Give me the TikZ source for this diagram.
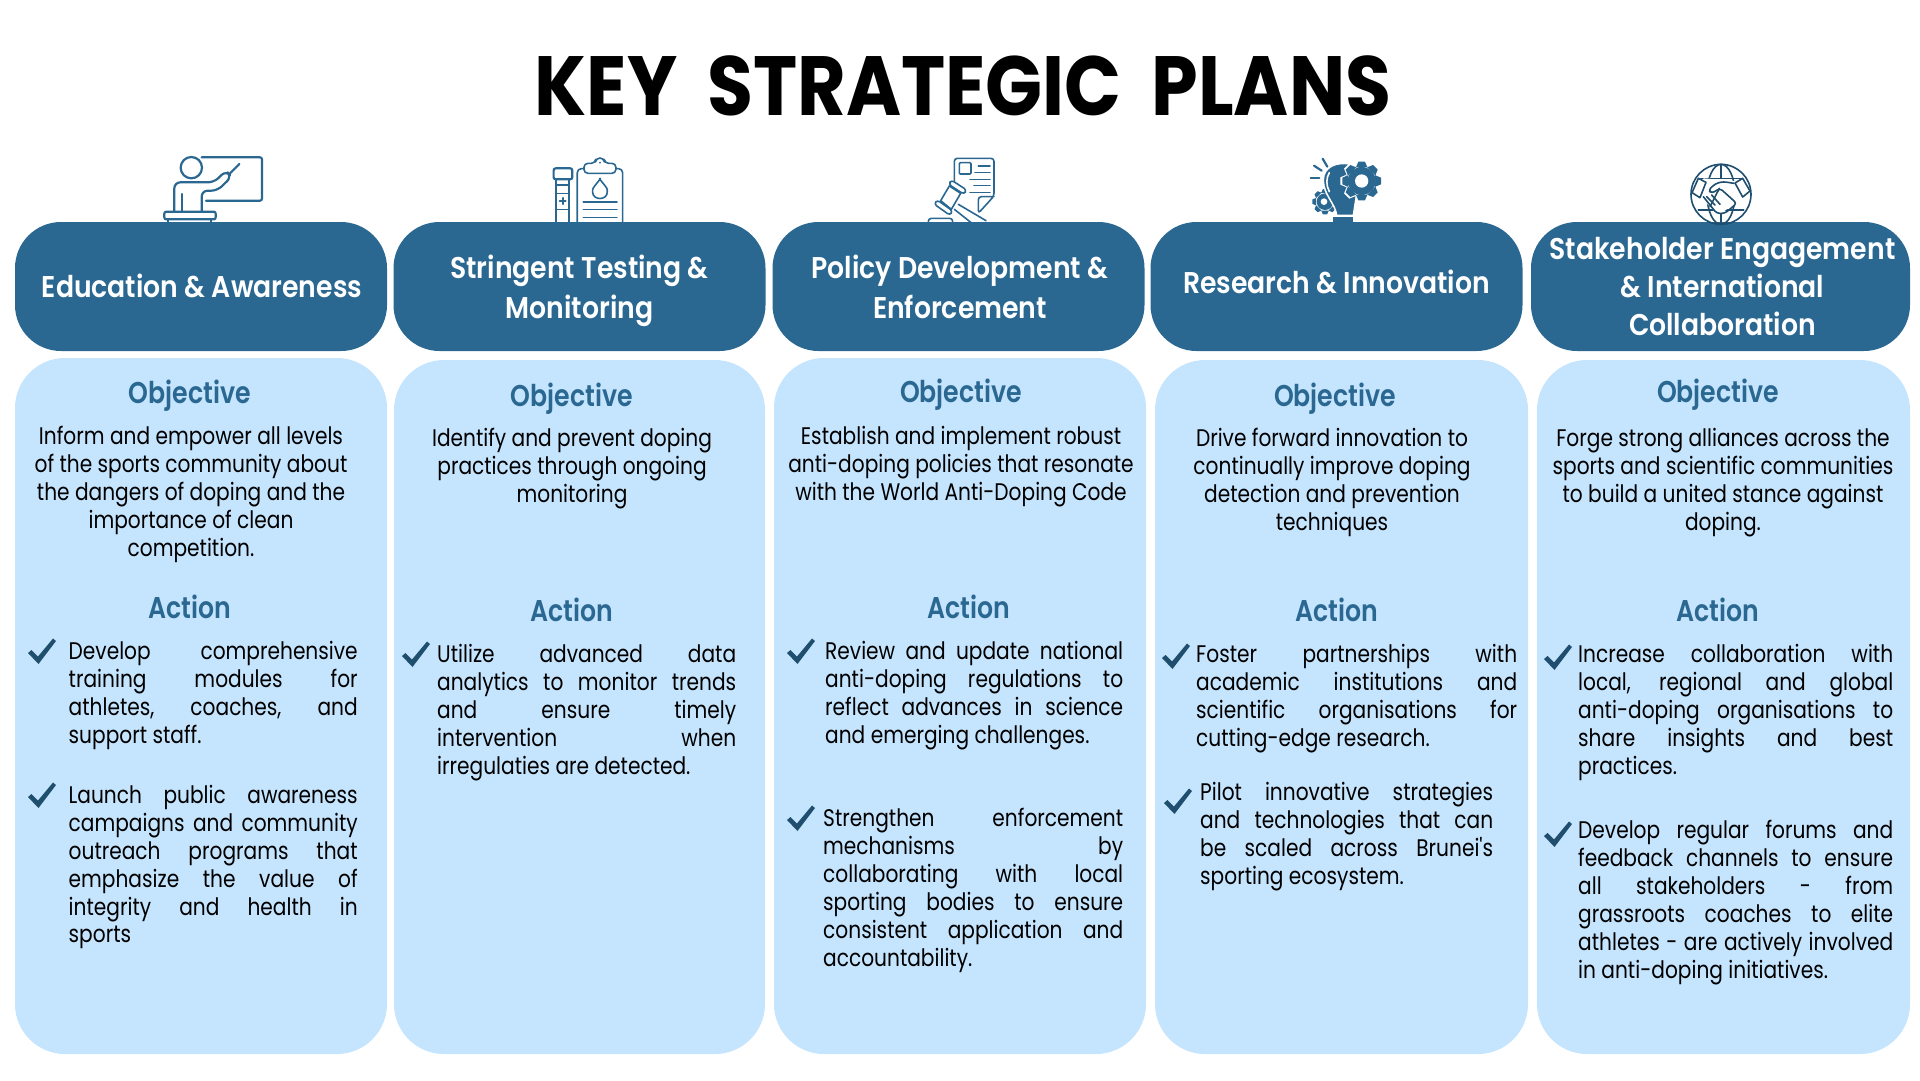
\documentclass[tikz,border=0pt]{standalone}
\usepackage{fontspec}
\newfontfamily\bodyfont[FakeStretch=0.84]{Poppins}
\newfontfamily\headfont[FakeStretch=0.89]{Poppins SemiBold}
\newfontfamily\subfont[FakeStretch=0.84]{Poppins SemiBold}
\newfontfamily\titlefont[FakeStretch=0.89]{Poppins Bold}
\definecolor{headblue}{HTML}{2A6892}
\definecolor{cardblue}{HTML}{C5E4FD}
\definecolor{tickblue}{HTML}{1F4E6E}
\tolerance=10000
\hbadness=10000
\hfuzz=3pt
\tikzset{
	headbox/.style={fill=headblue, text=white, rounded corners=46pt, minimum height=129pt, inner sep=0pt, align=center, font=\headfont\fontsize{30}{40}\selectfont},
	cardbox/.style={fill=cardblue, rounded corners=50pt, inner sep=0pt},
	subhead/.style={text=headblue, inner sep=0pt, font=\subfont\fontsize{30}{34}\selectfont},
	objtext/.style={anchor=north, inner sep=0pt, align=center, font=\bodyfont\fontsize{24}{28.1}\selectfont},
	listtext/.style={anchor=north west, inner sep=0pt, align=justify, font=\bodyfont\fontsize{24}{27.9}\selectfont},
	tickmark/.style={fill=tickblue},
	zoomed/.style={shift={(#1)}, x=0.3333pt, y=-0.3333pt},
	iconline/.style={draw=headblue, line width=2.2pt, line join=round, line cap=round, rounded corners=2pt},
	thinline/.style={draw=headblue, line width=1.6pt, line join=round, line cap=round, rounded corners=1pt},
	globeline/.style={draw=tickblue, line width=1.6pt, line join=round, line cap=round}
}
\newcommand{\ticksign}[1]{\fill[tickmark, shift={(#1)}] (-14,2) -- (-10.5,-1) -- (-4,5.5) -- (11,-12.5) -- (14,-10) -- (-3.5,13) -- cycle;}
\newcommand{\headtext}[3]{\hspace{#1}\raisebox{#2}[0pt][0pt]{\begin{tabular}{@{}c@{}}#3\end{tabular}}}
\newcommand{\gearshape}[6]{
	\foreach \a in {0,#5,...,359}
		\fill[#6, rotate around={\a:(#1,#2)}] (#1-0.3*#3,#2-0.7*#3) -- (#1-0.17*#3,#2-#3) -- (#1+0.17*#3,#2-#3) -- (#1+0.3*#3,#2-0.7*#3) -- cycle;
	\fill[#6] (#1,#2) circle (#4);
}
\begin{document}
\begin{tikzpicture}[x=1pt, y=-1pt]
	\useasboundingbox (0,0) rectangle (1920,1080);
	\node (title) [inner sep=0pt, font=\titlefont\fontsize{84}{90}\selectfont] at (963,86) {KEY\, STRATEGIC\, PLANS};

	% icons go under the head boxes
	\begin{scope}[zoomed={140,140}]
		\draw[iconline] (185,52) -- (366,52) -- (366,182) -- (198,182);
		\draw[iconline] (154,83) circle (32);
		\draw[iconline, rounded corners=6pt] (103,215) -- (103,127) -- (222,127) -- (258,92) -- (275,110) -- (232,152) -- (185,152) -- (185,215);
		\draw[iconline] (125,162) -- (125,215);
		\draw[iconline] (270,100) -- (298,72);
		\draw[iconline] (73,215) rectangle (227,238);
		\draw[iconline] (85,238) -- (85,250);
		\draw[iconline] (213,238) -- (213,250);
		\draw[iconline] (1241,85) rectangle (1297,118);
		\draw[iconline] (1249,118) -- (1249,250);
		\draw[iconline] (1288,118) -- (1288,250);
		\draw[thinline] (1249,135) -- (1288,135);
		\draw[thinline] (1249,160) -- (1288,160);
		\draw[thinline] (1249,208) -- (1288,208);
		\draw[iconline] (1259,183) -- (1277,183);
		\draw[iconline] (1268,174) -- (1268,192);
		\draw[thinline, rounded corners=4pt] (1332,86) -- (1312,86) -- (1312,250);
		\draw[thinline, rounded corners=4pt] (1428,86) -- (1448,86) -- (1448,250);
		\draw[thinline, rounded corners=4pt] (1332,100) -- (1332,70) -- (1366,70) -- (1368,54) -- (1392,54) -- (1394,70) -- (1428,70) -- (1428,100) -- cycle;
		\fill[headblue] (1380,68) circle (3);
		\draw[thinline] (1380,118) .. controls (1366,136) and (1358,144) .. (1358,153) .. controls (1358,182) and (1402,182) .. (1402,153) .. controls (1402,144) and (1394,136) .. (1380,118) -- cycle;
		\draw[thinline] (1330,186) -- (1431,186);
		\draw[thinline] (1330,209) -- (1431,209);
		\draw[thinline] (1330,232) -- (1431,232);
	\end{scope}
	\begin{scope}[zoomed={910,150}]
		\draw[thinline, rounded corners=3pt] (133,95) -- (133,25) -- (252,25) -- (252,138) -- (205,190) -- (205,140) -- (252,140);
		\draw[thinline] (148,38) rectangle (183,72);
		\foreach \yy/\xx in {48/205, 68/195, 88/180, 107/192, 127/180}
			\draw[thinline] (\xx,\yy) -- (240,\yy);
		\fill[white] (122,92) -- (170,125) -- (130,195) -- (75,155) -- cycle;
		\draw[thinline] (118,108) -- (152,130);
		\draw[thinline] (92,152) -- (124,178);
		\draw[thinline] (118,108) -- (92,152);
		\draw[thinline] (152,130) -- (124,178);
		\draw[thinline, rounded corners=3pt] (124,90) -- (170,120) -- (162,133) -- (116,103) -- cycle;
		\draw[thinline, rounded corners=3pt] (82,150) -- (128,183) -- (120,196) -- (72,162) -- cycle;
		\draw[thinline] (145,163) -- (228,212);
		\draw[thinline] (133,178) -- (205,235);
		\draw[thinline, rounded corners=3pt] (55,225) -- (55,205) -- (128,205) -- (128,225);
	\end{scope}
	\begin{scope}[zoomed={1300,150}]
		\gearshape{75}{155}{38}{25}{45}{headblue}
		\fill[white] (72,155) circle (10);
		\fill[headblue, draw=white, line width=1.5pt] (110,196) .. controls (106,160) and (70,135) .. (70,90) .. controls (70,50) and (110,35) .. (150,42) -- (175,100) -- (160,196) -- cycle;
		\draw[white, line width=1.6pt, line cap=round] (88,68) .. controls (78,85) and (78,105) .. (88,125);
		\gearshape{185}{93}{64}{48}{45}{white}
		\gearshape{185}{93}{58}{42}{45}{headblue}
		\fill[white] (185,93) circle (20);
		\fill[headblue] (100,200) rectangle (160,222);
		\draw[headblue, line width=2.2pt, line cap=round] (68,26) -- (82,50);
		\draw[headblue, line width=2.2pt, line cap=round] (42,47) -- (65,62);
		\draw[headblue, line width=2.2pt, line cap=round] (32,85) -- (58,85);
	\end{scope}

	% head boxes
	\node (headEdu) [headbox, minimum width=372pt] at (201,286.5) {\headtext{2pt}{-9.5pt}{Education \& Awareness}};
	\node (headTest) [headbox, minimum width=372pt] at (579.5,286.5) {\headtext{0pt}{-10pt}{Stringent Testing \&\\Monitoring}};
	\node (headPol) [headbox, minimum width=372pt] at (958.5,286.5) {\headtext{3pt}{-10pt}{Policy Development \&\\Enforcement}};
	\node (headRes) [headbox, minimum width=372pt] at (1336.5,286.5) {\headtext{0pt}{-5pt}{Research \& Innovation}};
	\node (headStake) [headbox, minimum width=379pt, font=\headfont\fontsize{30}{38}\selectfont] at (1720.5,286.5) {\headtext{4pt}{-9.5pt}{Stakeholder Engagement\\\& International\\Collaboration}};

	\begin{scope}[zoomed={1670,155}]
		\draw[globeline] (153,118) circle (90);
		\draw[globeline] (153,118) ellipse (42 and 90);
		\draw[globeline] (153,28) -- (153,70);
		\draw[globeline] (153,165) -- (153,208);
		\draw[globeline] (92,70) -- (214,70);
		\draw[globeline] (85,165) -- (221,165);
		\fill[white] (100,70) -- (215,80) -- (205,140) -- (145,180) -- (95,130) -- cycle;
		\draw[globeline, fill=white] (85,70) -- (108,82) -- (90,128) -- (66,113) -- cycle;
		\draw[globeline, fill=white] (218,70) -- (240,108) -- (218,126) -- (195,84) -- cycle;
		\draw[globeline, rounded corners=3pt] (192,85) -- (160,80) -- (138,85) -- (115,105) -- (125,115) -- (150,100) -- (200,145) -- (165,175) -- (140,175) -- (100,125);
		\draw[globeline] (110,125) -- (135,150);
		\draw[globeline] (125,120) -- (150,148);
		\draw[globeline] (148,100) -- (120,155);
	\end{scope}

	% cards
	\node (cardEdu) [cardbox, minimum width=372pt, minimum height=696pt] at (201,706) {};
	\node (cardTest) [cardbox, minimum width=371pt, minimum height=694pt] at (579.5,707) {};
	\node (cardPol) [cardbox, minimum width=372pt, minimum height=696pt] at (960,706) {};
	\node (cardRes) [cardbox, minimum width=373pt, minimum height=694pt] at (1341.5,707) {};
	\node (cardStake) [cardbox, minimum width=373pt, minimum height=694pt] at (1723.5,707) {};

	% education
	\node (objEdu) [subhead] at (190,396) {Objective};
	\node (objEduText) [objtext] at (191,426) {Inform and empower all levels\\of the sports community about\\the dangers of doping and the\\importance of clean\\competition.};
	\node (actEdu) [subhead] at (190,607) {Action};
	\ticksign{42,651}
	\node (listEduA) [listtext, text width=289pt] at (68.5,641) {Develop comprehensive\linebreak training modules for\linebreak athletes, coaches, and\linebreak support staff.};
	\ticksign{42,795}
	\node (listEduB) [listtext, text width=289pt] at (68.5,785) {Launch public awareness\linebreak campaigns and community\linebreak outreach programs that\linebreak emphasize the value of\linebreak integrity and health in\linebreak sports};

	% testing
	\node (objTest) [subhead] at (572,399) {Objective};
	\node (objTestText) [objtext] at (572,428) {Identify and prevent doping\\practices through ongoing\\monitoring};
	\node (actTest) [subhead] at (572,610) {Action};
	\ticksign{416,654}
	\node (listTestA) [listtext, text width=299pt] at (437,644) {Utilize advanced data\linebreak analytics to monitor trends\linebreak and ensure timely\linebreak intervention when\linebreak irregulaties are detected.};

	% policy
	\node (objPol) [subhead] at (961,395) {Objective};
	\node (objPolText) [objtext] at (961,426) {Establish and implement robust\\anti-doping policies that resonate\\with the World Anti-Doping Code};
	\node (actPol) [subhead] at (969,607) {Action};
	\ticksign{801,651}
	\node (listPolA) [listtext, text width=298pt] at (825,641) {Review and update national\linebreak anti-doping regulations to\linebreak reflect advances in science\linebreak and emerging challenges.};
	\ticksign{801,818}
	\node (listPolB) [listtext, text width=300pt] at (823,808) {Strengthen enforcement\linebreak mechanisms by\linebreak collaborating with local\linebreak sporting bodies to ensure\linebreak consistent application and\linebreak accountability.};

	% research
	\node (objRes) [subhead] at (1335,399) {Objective};
	\node (objResText) [objtext] at (1332,428) {Drive forward innovation to\\continually improve doping\\detection and prevention\\techniques};
	\node (actRes) [subhead] at (1337,610) {Action};
	\ticksign{1176,656}
	\node (listResA) [listtext, text width=321pt] at (1196,644) {Foster partnerships with\linebreak academic institutions and\linebreak scientific organisations for\linebreak cutting-edge research.};
	\ticksign{1178,801}
	\node (listResB) [listtext, text width=293pt] at (1200,782) {Pilot innovative strategies\linebreak and technologies that can\linebreak be scaled across Brunei's\linebreak sporting ecosystem.};

	% stakeholder
	\node (objStake) [subhead] at (1718,395) {Objective};
	\node (objStakeText) [objtext] at (1723,428) {Forge strong alliances across the\\sports and scientific communities\\to build a united stance against\\doping.};
	\node (actStake) [subhead] at (1718,610) {Action};
	\ticksign{1558,657}
	\node (listStakeA) [listtext, text width=315pt] at (1578,644) {Increase collaboration with\linebreak local, regional and global\linebreak anti-doping organisations to\linebreak share insights and best\linebreak practices.};
	\ticksign{1558,834}
	\node (listStakeB) [listtext, text width=315pt] at (1578,820) {Develop regular forums and\linebreak feedback channels to ensure\linebreak all stakeholders - from\linebreak grassroots coaches to elite\linebreak athletes - are actively involved\linebreak in anti-doping initiatives.};
\end{tikzpicture}
\end{document}
